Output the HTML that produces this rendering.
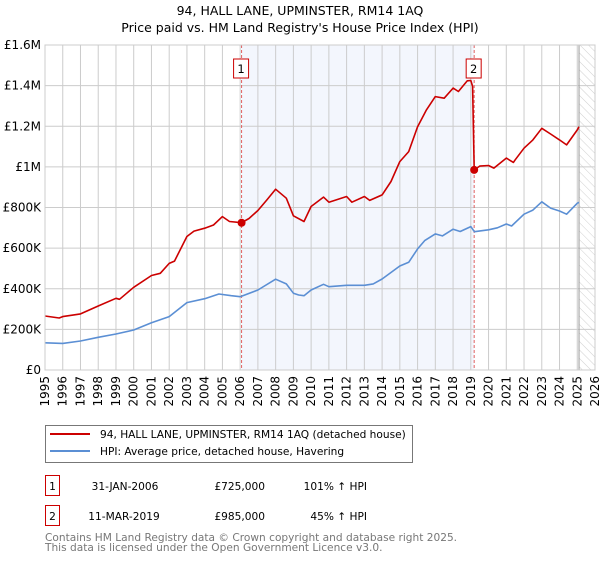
<!DOCTYPE html>
<html><head><meta charset="utf-8"><style>
body{margin:0;background:#fff;width:600px;height:560px;overflow:hidden;font-family:"DejaVu Sans","Liberation Sans",sans-serif}
svg text{font-family:"DejaVu Sans","Liberation Sans",sans-serif}
</style></head><body>
<svg id="chart" width="600" height="560" xmlns="http://www.w3.org/2000/svg">
<defs><pattern id="hatch" width="6" height="6" patternUnits="userSpaceOnUse" patternTransform="rotate(-45)"><line x1="0" y1="0" x2="0" y2="6" stroke="#d0d0d0" stroke-width="1"/></pattern></defs>
<text x="300" y="15" text-anchor="middle" font-size="12.5">94, HALL LANE, UPMINSTER, RM14 1AQ</text>
<text x="300" y="32" text-anchor="middle" font-size="12.5">Price paid vs. HM Land Registry's House Price Index (HPI)</text>
<g id="plot"></g>
<g>
<rect x="45.5" y="425.5" width="367" height="37" fill="#fff" stroke="#777"/>
<line x1="50" y1="434" x2="90" y2="434" stroke="#cc0000" stroke-width="2"/>
<text x="100" y="438" font-size="10.6">94, HALL LANE, UPMINSTER, RM14 1AQ (detached house)</text>
<line x1="50" y1="451" x2="90" y2="451" stroke="#5b8fd4" stroke-width="2"/>
<text x="100" y="455" font-size="10.6">HPI: Average price, detached house, Havering</text>
</g>
<g font-size="10.6">
<rect x="45.5" y="475.5" width="14" height="20" fill="#fff" stroke="#cc0000"/>
<text x="52.5" y="490" text-anchor="middle">1</text>
<text x="125" y="490" text-anchor="middle">31-JAN-2006</text>
<text x="265" y="490" text-anchor="end">£725,000</text>
<text x="367" y="490" text-anchor="end">101% ↑ HPI</text>
<rect x="45.5" y="505.5" width="14" height="20" fill="#fff" stroke="#cc0000"/>
<text x="52.5" y="520" text-anchor="middle">2</text>
<text x="124" y="520" text-anchor="middle">11-MAR-2019</text>
<text x="265" y="520" text-anchor="end">£985,000</text>
<text x="367" y="520" text-anchor="end">45% ↑ HPI</text>
</g>
<text x="45" y="541" font-size="10.6" fill="#777">Contains HM Land Registry data © Crown copyright and database right 2025.</text>
<text x="45" y="551" font-size="10.6" fill="#777">This data is licensed under the Open Government Licence v3.0.</text>
</svg>
<script>
const hpiYears=[1995,1996,1997,1998,1999,2000,2001,2002,2003,2004,2004.8,2005.5,2006,2007,2008,2008.6,2009,2009.3,2009.6,2010,2010.7,2011,2012,2013,2013.5,2014,2015,2015.5,2016,2016.4,2017,2017.4,2018,2018.4,2019,2019.2,2020,2020.5,2021,2021.3,2022,2022.5,2023,2023.5,2024,2024.4,2025,2025.1];
const hpiValues=[134,131,143,161,177,197,233,263,332,351,374,366,361,394,447,424,378,369,366,394,422,410,417,417,424,448,512,530,596,637,670,660,693,682,706,681,690,700,719,709,767,787,828,797,783,767,821,825];
const priceYears=[1995,1995.8,1996,1997,1998,1999,1999.2,2000,2001,2001.5,2002,2002.3,2003,2003.4,2004,2004.5,2005,2005.4,2006.08,2006.5,2007,2007.5,2008,2008.6,2009,2009.6,2010,2010.7,2011,2012,2012.3,2013,2013.3,2014,2014.5,2015,2015.5,2016,2016.5,2017,2017.5,2018,2018.3,2018.8,2019.0,2019.1,2019.19,2019.5,2020,2020.3,2021,2021.4,2021.5,2022,2022.5,2023,2023.5,2024,2024.4,2025,2025.1];
const priceValues=[266,256,263,276,315,353,348,407,465,476,525,536,657,684,698,714,755,731,725,746,785,837,890,846,759,731,805,851,826,854,826,854,835,862,928,1026,1075,1198,1281,1346,1338,1388,1371,1424,1425,1396,985,1004,1007,994,1043,1022,1035,1092,1133,1190,1162,1133,1108,1182,1198];
const saleYears=[2006.08,2019.19];
const saleValues=[725,985];
const saleLabels=["1","2"];
const yTicks=[0,200,400,600,800,1000,1200,1400,1600];
const yTickLabels=["£0","£200K","£400K","£600K","£800K","£1M","£1.2M","£1.4M","£1.6M"];
const xTicks=[1995,1996,1997,1998,1999,2000,2001,2002,2003,2004,2005,2006,2007,2008,2009,2010,2011,2012,2013,2014,2015,2016,2017,2018,2019,2020,2021,2022,2023,2024,2025,2026];

const NS="http://www.w3.org/2000/svg";
const L=45,R=595,T=45,B=370,X0=1995,X1=2026,YMAX=1600;
const xs=v=>L+(v-X0)/(X1-X0)*(R-L);
const ys=v=>B-v/YMAX*(B-T);
const g=document.getElementById('plot');
function mk(tag,attrs,parent){const e=document.createElementNS(NS,tag);for(const k in attrs)e.setAttribute(k,attrs[k]);(parent||g).appendChild(e);return e;}
const bg=mk('rect',{x:xs(saleYears[0]),y:T,width:xs(saleYears[1])-xs(saleYears[0]),height:B-T,fill:'#f3f6fd'});


const ht=mk('rect',{x:xs(2025.1),y:T,width:R-xs(2025.1),height:B-T,fill:'url(#hatch)'});


yTicks.forEach((t,i)=>{
  const ln=mk('line',{x1:L,x2:R,y1:ys(t),y2:ys(t),stroke:'#cccccc','stroke-width':1});
  
  
  const tx=mk('text',{x:L-4,y:ys(t)+4,'text-anchor':'end','font-size':12});
  
  
  tx.textContent=yTickLabels[i];
});
xTicks.forEach(t=>{
  const ln=mk('line',{x1:xs(t),x2:xs(t),y1:T,y2:B,stroke:'#cccccc','stroke-width':1});
  
  
  const tx=mk('text',{x:0,y:0,'text-anchor':'end','font-size':12,transform:`translate(${xs(t)+4},${B+6}) rotate(-90)`});
  
  
  tx.textContent=t;
});
const vl=mk('line',{x1:xs(2025.1),x2:xs(2025.1),y1:T,y2:B,stroke:'#999','stroke-width':1});


saleYears.forEach((y,i)=>{
  const ln=mk('line',{x1:xs(y),x2:xs(y),y1:T,y2:B,stroke:'#e06060','stroke-width':1,'stroke-dasharray':'3,2'});
  
  
});
function path(xa,va,color,name){
  const d=xa.map((x,i)=>(i?'L':'M')+xs(x).toFixed(1)+','+ys(va[i]).toFixed(1)).join('');
  const p=mk('path',{d:d,fill:'none',stroke:color,'stroke-width':1.6,'stroke-linejoin':'round'});
  
  
}
path(hpiYears,hpiValues,'#5b8fd4','hpi-line');
path(priceYears,priceValues,'#cc0000','property-price-line');
saleYears.forEach((y,i)=>{
  const c=mk('circle',{cx:xs(y),cy:ys(saleValues[i]),r:4,fill:'#cc0000'});
  
  
  const bx=mk('rect',{x:xs(y)-8,y:59,width:15,height:19,fill:'#fff',stroke:'#cc0000'});
  
  
  const tx=mk('text',{x:xs(y)-0.5,y:73,'text-anchor':'middle','font-size':11.5});
  
  
  tx.textContent=saleLabels[i];
});
const ax=mk('rect',{x:L,y:T,width:R-L,height:B-T,fill:'none',stroke:'#cccccc'});


</script>
</body></html>
